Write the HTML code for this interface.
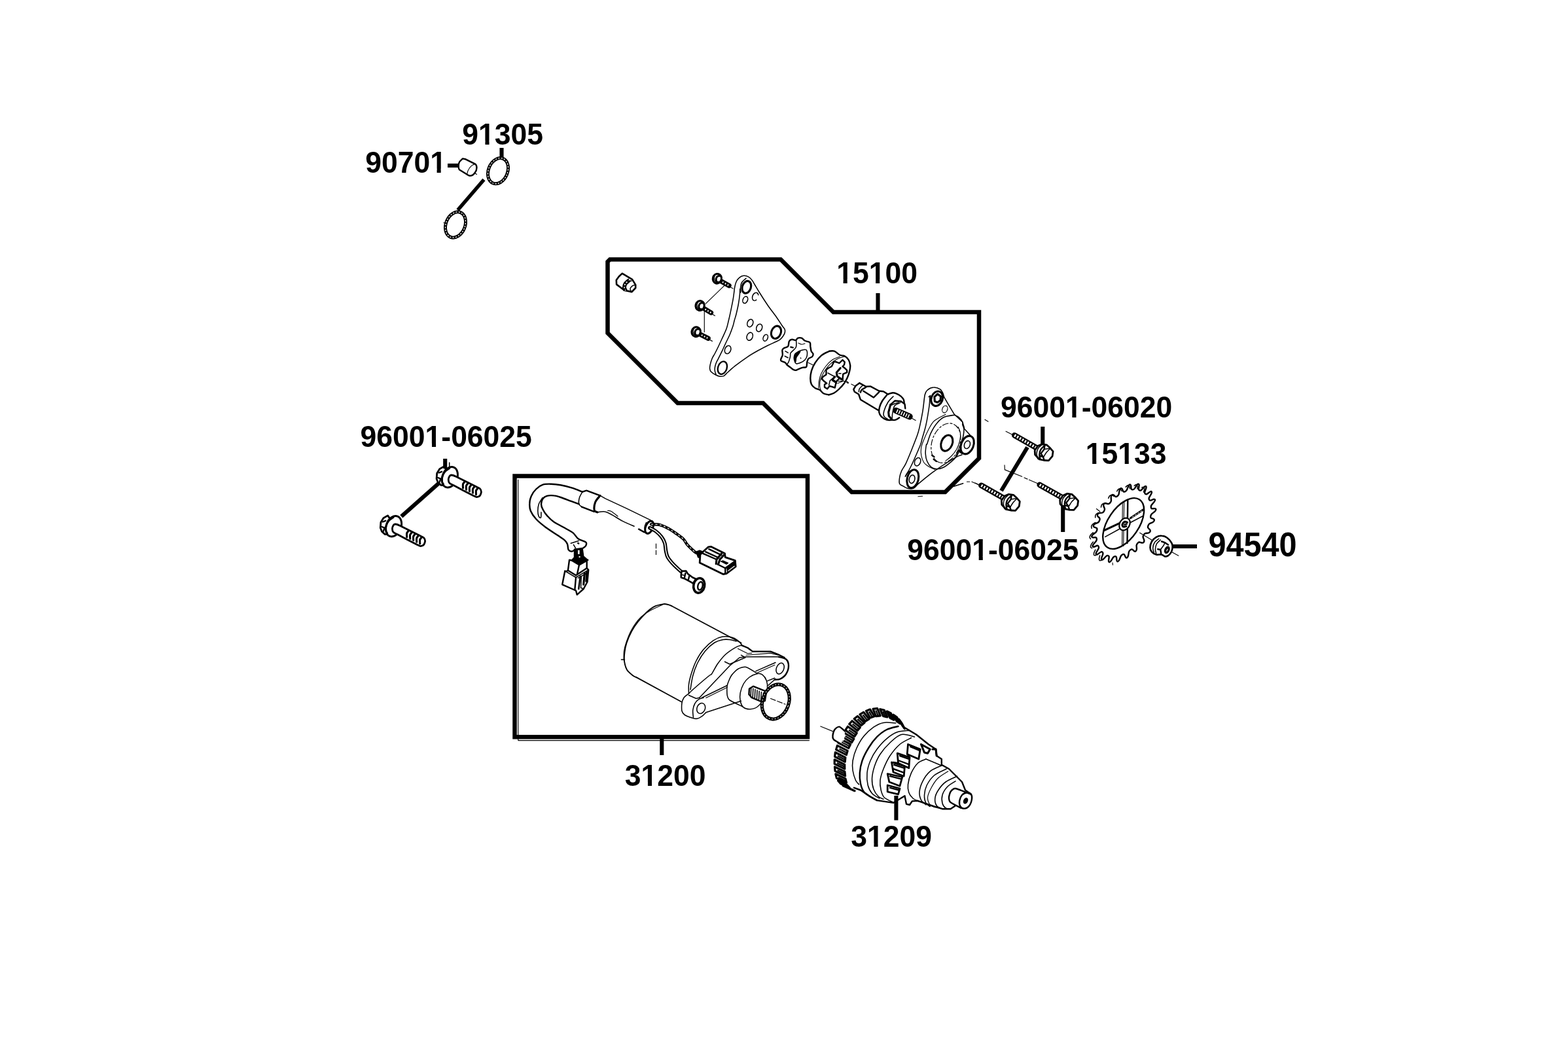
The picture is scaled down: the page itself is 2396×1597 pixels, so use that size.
<!DOCTYPE html>
<html lang="en"><head><meta charset="utf-8"><title>Parts diagram</title>
<style>
html,body{margin:0;padding:0;background:#fff;overflow:hidden}
svg{display:block}
.t{font-family:"Liberation Sans",sans-serif;font-weight:bold;font-size:44.5px;fill:#000}
.k{stroke:#000;stroke-width:6.5;fill:none;stroke-linejoin:miter}
.l{stroke:#000;stroke-width:6.1;fill:none;stroke-linecap:butt}
.n{stroke:#000;stroke-width:1.55;fill:none;stroke-linejoin:round;stroke-linecap:round}
.m{stroke:#000;stroke-width:2.4;fill:none;stroke-linejoin:round;stroke-linecap:round}
.b{stroke:#000;stroke-width:3.1;fill:none;stroke-linejoin:round;stroke-linecap:round}
.h{stroke:#000;stroke-width:1.15;fill:none;stroke-linecap:round;stroke-linejoin:round}
.wd{stroke:#fff;fill:none}
.f{fill:#000;stroke:#000;stroke-width:1.5;stroke-linejoin:round}
</style></head>
<body>
<svg width="2396" height="1597" viewBox="0 0 2396 1597">
<defs><filter id="soft" filterUnits="userSpaceOnUse" x="0" y="0" width="2396" height="1597" color-interpolation-filters="sRGB"><feGaussianBlur stdDeviation="0.45"/></filter></defs>
<rect width="2396" height="1597" fill="#fff"/>
<g filter="url(#soft)">
<rect width="2396" height="1597" fill="#fff"/>
<g id="part_00_frames">
<path class="k" d="M928.5 400 L932 396.5 L1193 396.5 L1273.5 477 L1496 477 L1496 700.5 L1444.3 752 L1301.5 752 L1166 616 L1035.5 616 L928.5 509 Z"/>
<rect class="k" x="786.5" y="727.5" width="447.5" height="398.8"/>
<path class="h" d="M791.8 733 V1131.6 H1236.5"/>
</g>
<g id="part_01_labels">
<g transform="translate(558.2 263.6) scale(1 1.06)"><text class="t">90701</text><rect x="99.89" y="-5.24" width="9.50" height="6.14" fill="#fff"/><rect x="115.49" y="-5.24" width="8.25" height="6.14" fill="#fff"/></g>
<g transform="translate(706.3 220.8) scale(1 1.06)"><text class="t">91305</text><rect x="25.64" y="-5.24" width="9.50" height="6.14" fill="#fff"/><rect x="41.24" y="-5.24" width="8.25" height="6.14" fill="#fff"/></g>
<g transform="translate(1278.2 432.7) scale(1 1.06)"><text class="t">15100</text><rect x="0.89" y="-5.24" width="9.50" height="6.14" fill="#fff"/><rect x="16.49" y="-5.24" width="8.25" height="6.14" fill="#fff"/><rect x="50.39" y="-5.24" width="9.50" height="6.14" fill="#fff"/><rect x="65.99" y="-5.24" width="8.25" height="6.14" fill="#fff"/></g>
<g transform="translate(1529 638.2) scale(1 1.06)"><text class="t">96001-06020</text><rect x="99.89" y="-5.24" width="9.50" height="6.14" fill="#fff"/><rect x="115.49" y="-5.24" width="8.25" height="6.14" fill="#fff"/></g>
<g transform="translate(1658.8 709) scale(1 1.06)"><text class="t">15133</text><rect x="0.89" y="-5.24" width="9.50" height="6.14" fill="#fff"/><rect x="16.49" y="-5.24" width="8.25" height="6.14" fill="#fff"/><rect x="50.39" y="-5.24" width="9.50" height="6.14" fill="#fff"/><rect x="65.99" y="-5.24" width="8.25" height="6.14" fill="#fff"/></g>
<g transform="translate(1386.3 855.8) scale(1 1.06)"><text class="t">96001-06025</text><rect x="99.89" y="-5.24" width="9.50" height="6.14" fill="#fff"/><rect x="115.49" y="-5.24" width="8.25" height="6.14" fill="#fff"/></g>
<g transform="translate(1846.5 850.1) scale(1 1.06)"><text class="t" style="font-size:48.6px">94540</text></g>
<g transform="translate(550.6 683.2) scale(1 1.06)"><text class="t">96001-06025</text><rect x="99.89" y="-5.24" width="9.50" height="6.14" fill="#fff"/><rect x="115.49" y="-5.24" width="8.25" height="6.14" fill="#fff"/></g>
<g transform="translate(954.8 1200.8) scale(1 1.06)"><text class="t">31200</text><rect x="25.64" y="-5.24" width="9.50" height="6.14" fill="#fff"/><rect x="41.24" y="-5.24" width="8.25" height="6.14" fill="#fff"/></g>
<g transform="translate(1300.3 1294.4) scale(1 1.06)"><text class="t">31209</text><rect x="25.64" y="-5.24" width="9.50" height="6.14" fill="#fff"/><rect x="41.24" y="-5.24" width="8.25" height="6.14" fill="#fff"/></g>
<path class="l" d="M684 253 H701.5"/>
<path class="l" d="M766.5 226 V243"/>
<path class="l" d="M739.5 274.5 L699.5 321" style="stroke-width:5.5"/>
<path class="l" d="M1341.5 448 V478"/>
<path class="l" d="M1011.3 1128 V1154"/>
</g>
<g id="part_02_topleft">
<g transform="translate(761 261.2) rotate(22)"><ellipse class="n" rx="14.6" ry="20.3" style="stroke-width:5"/><ellipse class="wd" rx="14.6" ry="20.3" stroke-width="1.3" stroke-dasharray="2.2 2.2"/></g>
<g transform="translate(696 343.5) rotate(22)"><ellipse class="n" rx="14.6" ry="20.3" style="stroke-width:5"/><ellipse class="wd" rx="14.6" ry="20.3" stroke-width="1.3" stroke-dasharray="2.2 2.2"/></g>
<path class="h" d="M678 340.5 L682 341"/>
<path class="m" d="M707 242.4 L711 243.2 L726 250.6 C729.5 253 729 259.5 726 263.5 C723 268 719 269.2 716.3 268.2 L701.8 259.2 C700 256 700.3 250.5 702.3 247 Z"/>
<path class="h" d="M725 251 C719.5 252.5 714.5 259 713.5 266.5"/>
<path class="h" d="M725.5 264.5 L728.5 266.5"/>
</g>
<g id="part_03_plate">
<path d="M950.8 417.9 L966.2 427.1 L971.2 435.4 L971.2 440 L965.4 446.2 L962.5 445.4 L954.2 443.8 L942.1 434.6 L941.8 427.9 L945.8 422.5Z" fill="#fff" stroke="#000" stroke-width="2.6" stroke-linejoin="round"/>
<path d="M962.1 427.7 C961 428.6 957.2 431.4 955.8 433.3 C954.5 435.2 954 437.4 954 439.2 C954 440.9 955.5 443.2 955.8 444" stroke="#000" stroke-width="6" fill="none" stroke-linecap="butt"/>
<path d="M962.1 427.7 C961 428.6 957.2 431.4 955.8 433.3 C954.5 435.2 954 437.4 954 439.2 C954 440.9 955.5 443.2 955.8 444" class="wd" stroke-width="1.6" stroke-dasharray="2.2 2.4"/>
<path class="n" d="M971 435.7 C970.2 435.9 967.7 435.8 966.3 436.8 C965 437.8 963.1 440.1 962.9 441.7 C962.7 443.2 964.8 445.3 965.2 446"/>
<path class="n" d="M960 429.2 L965 429.2"/>
<g transform="translate(1095.9 425.8)"><g transform="rotate(29)"><path d="M3 0.6 H21" stroke="#000" stroke-width="7.4" stroke-linecap="round" fill="none"/><path d="M9.5 0.6 H22" class="wd" stroke-width="2.2" stroke-dasharray="1.8 2.6"/><path d="M24 1.5 H28.5" class="h"/></g><ellipse rx="6.6" ry="7.4" transform="rotate(15)" fill="#fff" stroke="#000" stroke-width="3.1"/><path d="M4.6 -4.2 C0 -5.2 -2.6 -1 -1.6 3.2 C-1 5.2 0.6 6 2 5.6" class="b"/><path d="M-3.6 -4.4 C-5 -1.5 -4.6 2 -3 4.2" class="h"/></g>
<g transform="translate(1069.6 467.1)"><g transform="rotate(31)"><path d="M3 0.6 H20" stroke="#000" stroke-width="7.4" stroke-linecap="round" fill="none"/><path d="M9.5 0.6 H21" class="wd" stroke-width="2.2" stroke-dasharray="1.8 2.6"/><path d="M23 1.5 H27.5" class="h"/></g><ellipse rx="6.6" ry="7.4" transform="rotate(15)" fill="#fff" stroke="#000" stroke-width="3.1"/><path d="M4.6 -4.2 C0 -5.2 -2.6 -1 -1.6 3.2 C-1 5.2 0.6 6 2 5.6" class="b"/><path d="M-3.6 -4.4 C-5 -1.5 -4.6 2 -3 4.2" class="h"/></g>
<g transform="translate(1063.7 507.1)"><g transform="rotate(27)"><path d="M3 0.6 H21" stroke="#000" stroke-width="7.4" stroke-linecap="round" fill="none"/><path d="M9.5 0.6 H22" class="wd" stroke-width="2.2" stroke-dasharray="1.8 2.6"/><path d="M24 1.5 H28.5" class="h"/></g><ellipse rx="6.6" ry="7.4" transform="rotate(15)" fill="#fff" stroke="#000" stroke-width="3.1"/><path d="M4.6 -4.2 C0 -5.2 -2.6 -1 -1.6 3.2 C-1 5.2 0.6 6 2 5.6" class="b"/><path d="M-3.6 -4.4 C-5 -1.5 -4.6 2 -3 4.2" class="h"/></g>
<path class="h" d="M1106.7 436.7 L1078.3 464.2"/>
<path class="h" d="M1076.3 475 L1076.3 507.5"/>
<path class="n" d="M1122.5 440 C1123 437.4 1123.8 433.4 1125 430.8 C1126.2 428.2 1128 425.8 1130 424.2 C1132 422.6 1134.3 421.4 1136.7 421.3 C1139.1 421.2 1142.1 422.1 1144.2 423.3 C1146.3 424.5 1147.7 426.4 1149.2 428.3 C1150.7 430.2 1151.4 431.8 1153.3 435 C1155.2 438.2 1157.5 442.2 1160.8 447.5 C1164.1 452.8 1169 460.4 1173.3 466.7 C1177.6 472.9 1183.1 479.9 1186.7 485 C1190.3 490.1 1192.9 494.4 1195 497.5 C1197.1 500.6 1198.5 501.7 1199.2 503.5 C1199.9 505.3 1199.6 506.8 1199.2 508.5 C1198.8 510.2 1198 511.7 1196.7 513.5 C1195.5 515.3 1193.7 517.7 1191.7 519.2 C1189.8 520.7 1187.9 521.1 1185 522.5 C1182.1 523.9 1178.7 525.3 1174.2 527.5 C1169.8 529.7 1163.7 532.8 1158.3 535.8 C1152.9 538.8 1147.5 541.9 1141.7 545.8 C1135.9 549.7 1128.6 555 1123.3 559.2 C1118 563.4 1112.9 568.2 1110 570.8 C1107.1 573.4 1107.5 573.9 1105.8 574.6 C1104.1 575.3 1102.1 575.5 1100 575.2 C1097.9 574.9 1095.5 573.9 1093.3 572.7 C1091.1 571.6 1088.2 569.9 1086.7 568.3 C1085.2 566.7 1084.8 565.2 1084.6 563.3 C1084.4 561.4 1084.8 559.3 1085.4 556.7 C1086 554.1 1087.1 550.3 1088.3 547.5 C1089.5 544.7 1091 542.9 1092.5 540 C1094 537.1 1095.7 533.8 1097.5 530 C1099.3 526.2 1101.2 522.1 1103.3 517.5 C1105.4 512.9 1108.3 507.1 1110 502.5 C1111.7 497.9 1112.3 493.9 1113.3 490 C1114.3 486.1 1114.7 484.5 1115.8 479.2 C1116.9 473.9 1119 463.7 1120 458.3 C1121 452.9 1121.3 449.8 1121.7 446.7 C1122.1 443.6 1122 442.6 1122.5 440Z"/>
<path class="n" d="M1130.8 441.7 C1130.7 443.1 1130.8 446.1 1130.4 450 C1130 453.9 1129.2 460 1128.3 465 C1127.4 470 1126 475.8 1125 480 C1124 484.2 1122.9 486.9 1122.1 490 C1121.3 493.1 1121.2 494.7 1120 498.3 C1118.8 501.9 1117 507.1 1115 511.7 C1113 516.3 1110.2 521.6 1108.3 525.8 C1106.3 530 1105.1 533 1103.3 536.7 C1101.5 540.5 1099 545.2 1097.5 548.3 C1096 551.3 1095 552.9 1094.2 555 C1093.4 557.1 1092.8 558.7 1092.5 560.8 C1092.2 562.9 1092.2 565.6 1092.5 567.5 C1092.8 569.4 1093.8 571.2 1094 572"/>
<ellipse class="b" cx="1140.8" cy="438.8" rx="6.6" ry="9.6" transform="rotate(18 1140.8 438.8)"/>
<path class="n" d="M1140 425.4 C1138.9 426.5 1134.7 429.6 1133.3 432 C1131.9 434.4 1131.8 437.5 1131.5 440 C1131.2 442.5 1131.8 445.8 1131.8 447"/>
<ellipse class="b" cx="1186" cy="507.8" rx="7.2" ry="9.9" transform="rotate(20 1186 507.8)"/>
<ellipse class="m" cx="1103.9" cy="562.1" rx="6.8" ry="10" transform="rotate(18 1103.9 562.1)"/>
<ellipse class="n" cx="1138.8" cy="458.3" rx="3.6" ry="5.4" transform="rotate(22 1138.8 458.3)"/>
<ellipse class="n" cx="1146.3" cy="493.8" rx="4.3" ry="6" transform="rotate(22 1146.3 493.8)"/>
<ellipse class="n" cx="1160.2" cy="501" rx="4.3" ry="6" transform="rotate(22 1160.2 501)"/>
<ellipse class="n" cx="1145.7" cy="514.2" rx="4.4" ry="6.3" transform="rotate(22 1145.7 514.2)"/>
<ellipse class="n" cx="1169.7" cy="516.2" rx="3.4" ry="5.2" transform="rotate(22 1169.7 516.2)"/>
<ellipse class="n" cx="1112.1" cy="534.4" rx="4.5" ry="6.4" transform="rotate(22 1112.1 534.4)"/>
<path class="n" d="M1155.7 458.3 C1155.5 458.4 1154.8 458.9 1154.4 459.1 C1153.9 459.3 1153.4 459.4 1153 459.4 C1152.5 459.4 1152.1 459.3 1151.7 459.1 C1151.3 458.9 1150.9 458.6 1150.6 458.2 C1150.3 457.9 1150.1 457.4 1149.9 457 C1149.7 456.5 1149.6 455.9 1149.6 455.3 C1149.5 454.8 1149.6 454.1 1149.7 453.5 C1149.8 452.9 1150 452.3 1150.2 451.7 C1150.4 451.1 1150.8 450.5 1151.1 450 C1151.5 449.5 1151.9 449 1152.3 448.6 C1152.7 448.2 1153.2 447.9 1153.6 447.7 C1154.1 447.5 1154.6 447.3 1155.1 447.3 C1155.5 447.2 1156 447.3 1156.4 447.4 C1156.8 447.5 1157.2 447.8 1157.5 448.1 C1157.8 448.4 1158.1 448.8 1158.3 449.2 C1158.5 449.7 1158.7 450.5 1158.8 450.8"/>
</g>
<g id="part_04_rotor">
<path class="m" d="M1219.2 516.7 C1220.7 516.1 1223.2 516 1225 516.7 C1226.8 517.4 1227.9 519.7 1230 520.8 C1232.1 521.9 1236.1 521.9 1237.5 523.3 C1238.9 524.7 1238 526.9 1238.3 529.2 C1238.7 531.4 1238.9 534.7 1239.6 536.7 C1240.3 538.6 1242.2 539.4 1242.5 540.8 C1242.8 542.2 1242.4 543.8 1241.2 545 C1240.1 546.2 1236.7 546.9 1235.4 548.3 C1234.1 549.7 1233.9 551.2 1233.3 553.3 C1232.8 555.4 1233.2 559.4 1232.1 560.8 C1231 562.2 1228.7 561.1 1226.7 561.7 C1224.7 562.2 1221.7 563.5 1220 564.2 C1218.3 564.9 1217.9 565.7 1216.7 565.8 C1215.4 566 1214 565.8 1212.5 565 C1211 564.2 1209.2 562.5 1207.5 561.2 C1205.8 560 1203.8 558.7 1202.5 557.5 C1201.2 556.3 1201.5 555.2 1200 554.2 C1198.5 553.1 1194.4 552.4 1193.3 551.2 C1192.3 550.1 1193.3 549 1193.8 547.5 C1194.2 546 1195.6 544.6 1195.8 542.5 C1196.1 540.4 1195.1 536.7 1195.4 535 C1195.8 533.3 1196.5 533.1 1197.9 532.1 C1199.4 531.1 1202.8 530.9 1204.2 529.2 C1205.5 527.4 1204.9 523.4 1205.8 521.7 C1206.8 519.9 1208.3 519 1210 518.8 C1211.7 518.5 1214.3 520.3 1215.8 520 C1217.4 519.7 1217.6 517.2 1219.2 516.7Z"/>
<path class="n" d="M1216.7 520.8 C1216.6 522.5 1217.6 527.8 1216.2 530.8 C1214.9 533.9 1209.8 536.8 1208.3 539.2 C1206.9 541.5 1208.1 542.6 1207.5 545 C1206.9 547.4 1205.9 551.3 1205 553.3 C1204.1 555.3 1202.6 556.5 1202.1 557.1"/>
<path class="n" d="M1213.3 546.7 C1213.5 544.9 1213.3 542.6 1215 540.8 C1216.7 539 1220.8 536.9 1223.3 535.8 C1225.8 534.7 1228.4 534.2 1230 534.2 C1231.6 534.2 1232.4 534.3 1232.9 535.8 C1233.5 537.4 1233.8 541 1233.3 543.3 C1232.8 545.7 1231.7 548.2 1230 550 C1228.3 551.8 1225.6 553.2 1223.3 554.2 C1221.1 555.1 1218.2 556.2 1216.7 555.8 C1215.1 555.4 1214.7 553.2 1214.2 551.7 C1213.6 550.1 1213.2 548.5 1213.3 546.7Z"/>
<path class="f" d="M1213.8 547.1 C1213.7 545.1 1214 542.9 1215.4 541.2 C1216.9 539.6 1221.7 537 1222.5 537.1 C1223.3 537.2 1221 540.1 1220 541.7 C1219 543.3 1217.4 544.7 1216.7 546.7 C1216 548.6 1216.3 553.3 1215.8 553.3 C1215.3 553.4 1213.8 549.1 1213.8 547.1Z"/>
<path class="h" d="M1220 524.2 C1220.8 524.5 1223.3 526.1 1225 526.2 C1226.7 526.4 1229.2 525.2 1230 525"/>
<path class="m" d="M1208.3 530.4 L1211.7 531.2"/>
<path class="n" d="M1200 536.7 L1204.2 539.2"/>
<path class="n" d="M1199.2 544.2 L1204.2 546.7"/>
<path class="n" d="M1223.3 547.1 L1223.8 547.5"/>
<path class="h" d="M1235 554.2 L1243.3 558.3"/>
<path class="m" d="M1267.1 536.7 C1265.1 537.8 1258.5 540.4 1255 543.3 C1251.5 546.2 1248.3 550.3 1245.8 554.2 C1243.3 558.1 1241.2 562.6 1240 566.7 C1238.8 570.7 1238.3 574.9 1238.3 578.3 C1238.3 581.8 1238.8 585 1240 587.5 C1241.2 590 1243.8 591.9 1245.8 593.3 C1247.9 594.7 1250.4 594.5 1252.5 595.8 C1254.6 597.2 1256 600 1258.3 601.2 C1260.7 602.5 1265.3 603 1266.7 603.3"/>
<path class="m" d="M1267.1 536.7 C1268.4 536.7 1272.3 535.7 1275 536.7 C1277.7 537.6 1280.7 541.2 1283.3 542.5 C1286 543.8 1288.6 542.9 1290.8 544.2 C1293.1 545.4 1295.3 547.6 1296.7 550 C1298.1 552.4 1298.9 555.6 1299.2 558.3 C1299.4 561.1 1299 563.6 1298.3 566.7 C1297.6 569.7 1296.4 573.5 1295 576.7 C1293.6 579.9 1292.2 582.8 1290 585.8 C1287.8 588.9 1284.3 592.5 1281.7 595 C1279 597.5 1276.7 599.4 1274.2 600.8 C1271.7 602.2 1267.9 602.9 1266.7 603.3"/>
<path class="h" d="M1283.3 545 C1281.4 545.8 1275.3 547.5 1271.7 550 C1268.1 552.5 1264.4 556.5 1261.7 560 C1258.9 563.5 1256.7 567.2 1255 570.8 C1253.3 574.4 1252.4 577.9 1251.7 581.7 C1251 585.4 1251 591.4 1250.8 593.3"/>
<path class="h" d="M1290.8 544.6 C1288.8 545.3 1282.4 546.9 1278.3 549.2 C1274.3 551.5 1270 554.9 1266.7 558.3 C1263.3 561.8 1260.6 566.1 1258.3 570 C1256.1 573.9 1254.2 578.1 1253.3 581.7 C1252.4 585.3 1252.6 588.9 1252.9 591.7 C1253.2 594.4 1254.7 597.2 1255 598.3"/>
<path class="m" d="M1274.2 552.5 L1278.3 553.3 L1282.5 555 L1287.5 550 L1290.8 553.3 L1290 557.5 L1287.5 560 L1291.7 563.3 L1294.2 565.8 L1294.2 569.2 L1288.3 571.7 L1287.5 580 L1282.5 578.3 L1278.3 582.5 L1276.7 588.3 L1275.8 592.5 L1270.8 590.8 L1267.5 590 L1264.2 594.2 L1260 591.7 L1260 587.5 L1263.3 585.8 L1260 583.3 L1255.8 579.2 L1257.5 575.8 L1262.5 572.5 L1262.5 565 L1265.8 562.5 L1270.8 560 L1273.3 555Z"/>
<path class="b" d="M1284.2 562.5 L1278.3 569.2 L1279.2 575 L1286.7 580"/>
<path class="n" d="M1265 570 L1275.8 575.8 L1268.3 581.7 L1266.7 588.3"/>
<path class="b" d="M1275.8 575.8 L1271.7 580 L1277.5 584.2"/>
<path class="n" d="M1271.7 581.7 L1278.3 585.8"/>
<path class="n" d="M1281.7 570.8 L1285 570.8"/>
<path class="h" d="M1288.3 571.7 L1288.3 582.5 L1280 585.8"/>
<path class="h" d="M1278.3 582.5 L1290.8 582.5"/>
<path class="m" d="M1294.2 583.8 L1295.8 585"/>
<path class="h" d="M1300.8 587.1 L1306.7 590"/>
<path class="m" d="M1313.3 585.4 L1307.9 589.2 L1304.3 595 L1305.8 598.8 L1312.1 602.5 L1315 610.8 L1341.7 626.7"/>
<path class="m" d="M1313.3 585.4 L1323.3 590.8 L1330 590.4 L1343.3 597.5 L1350 598.3 L1356.7 602.5"/>
<path class="n" d="M1317.9 589.2 C1317.2 590 1314.3 592.6 1313.3 594.2 C1312.4 595.8 1312.5 598 1312.3 598.8"/>
<path class="m" d="M1323.3 591.7 C1322.2 592.4 1318.1 594.5 1316.7 595.8 C1315.3 597.2 1315.3 599 1315 599.6"/>
<path class="m" d="M1319.2 597.5 L1335 607.5 L1343.3 599.2"/>
<path class="m" d="M1356.7 602.5 C1358.1 602.1 1362.2 600 1365 600.2 C1367.8 600.3 1370.8 601.8 1373.3 603.3 C1375.8 604.8 1378.6 607.2 1380 609.2 C1381.4 611.1 1381.4 614 1381.7 615"/>
<path class="m" d="M1355.8 602.9 C1354.6 604.5 1350.3 609.4 1348.3 612.5 C1346.4 615.6 1345 618.8 1344.2 621.7 C1343.3 624.6 1342.9 627.5 1343.3 630 C1343.8 632.5 1344.7 634.7 1346.7 636.7 C1348.6 638.6 1352.4 640.8 1355 641.7 C1357.6 642.5 1360.3 641.8 1362.5 641.8 C1364.7 641.8 1366.4 642.2 1368.3 641.7 C1370.3 641.1 1373.2 638.9 1374.2 638.3"/>
<path class="n" d="M1365 605.8 C1363.6 607.4 1359 611.2 1356.7 615 C1354.3 618.8 1351.8 624.9 1350.8 628.3 C1349.8 631.8 1349.7 633.8 1350.7 635.8 C1351.6 637.9 1355.7 640 1356.7 640.8"/>
<path class="m" d="M1360.8 618.3 L1367.5 612.5 L1376.7 613.3 L1382.5 617.5 L1383.3 624.2"/>
<path class="b" d="M1360.8 618.3 L1357.7 630 L1358.3 635.8 L1362.5 640.8"/>
<path class="n" d="M1375.8 615.4 C1374.4 616.2 1369.1 617.3 1367.1 620 C1365.1 622.7 1364.4 628.5 1363.8 631.7 C1363.1 634.9 1363.4 637.9 1363.3 639.2"/>
<path class="n" d="M1361.7 619.2 L1367.5 616.7 L1373.3 615"/>
<path d="M1369.2 627.5 L1390 636.7" stroke="#000" stroke-width="9.5" stroke-linecap="round" fill="none"/>
<path d="M1370.2 628 L1391 637.2" class="wd" stroke-width="6" stroke-dasharray="1.6 2.2"/>
<path class="h" d="M1392.1 638.5 L1399.2 642.5"/>
</g>
<g id="part_05_body">
<path class="n" d="M1442.5 606.7 C1442.2 605.7 1441.8 602.8 1440.8 600.8 C1439.9 598.9 1439 596.5 1436.7 595 C1434.3 593.5 1429.9 591.9 1426.7 592.1 C1423.5 592.2 1419.7 594 1417.5 595.8 C1415.3 597.7 1414.6 597.9 1413.3 603.3 C1412.1 608.8 1411.4 620 1410 628.3 C1408.6 636.7 1406.4 647.2 1405 653.3 C1403.6 659.4 1403.6 659.4 1401.7 665 C1399.7 670.6 1396.2 679.4 1393.3 686.7 C1390.4 693.9 1386.8 702.8 1384.2 708.3 C1381.5 713.9 1379.1 716.4 1377.5 720 C1375.9 723.6 1375.1 726.8 1374.6 730 C1374.1 733.2 1373.7 737 1374.6 739.2 C1375.5 741.3 1378 741.7 1380 742.9 C1382 744.1 1384 745.7 1386.7 746.2 C1389.3 746.8 1393.2 747.3 1395.8 746.2 C1398.5 745.2 1401.4 741 1402.5 740"/>
<path class="n" d="M1420.8 605.8 C1420.7 608.2 1421 612.8 1420 620 C1419 627.2 1416.8 640.8 1415 649.2 C1413.2 657.5 1410.6 665 1409.2 670 C1407.8 675 1408.6 674 1406.7 679.2 C1404.7 684.3 1400.1 694.9 1397.5 700.8 C1394.9 706.8 1393.1 710.6 1390.8 715 C1388.5 719.4 1384.9 725.4 1383.8 727.5"/>
<path class="h" d="M1418.8 606.7 L1421.7 604.2 L1422.5 616.7"/>
<path class="n" d="M1442.5 606.7 L1448.3 616.7 L1458.3 633.3 L1470.8 645 L1473.3 653.3 L1473.3 655 L1482.5 665"/>
<path class="n" d="M1402.5 740 C1404.9 738.1 1412.1 731.9 1416.7 728.3 C1421.2 724.7 1422.8 723.2 1430 718.3 C1437.2 713.5 1453.3 703.1 1460 699.2 C1466.7 695.3 1468.3 695.7 1470 695"/>
<path class="n" d="M1460 699.2 L1464.2 688.3"/>
<ellipse class="b" cx="1431.7" cy="609.2" rx="8.6" ry="11.5" transform="rotate(20 1431.7 609.2)"/>
<path class="b" d="M1432.5 602.1 L1437.5 605.8 L1437.1 611.7 L1432.5 615 L1428.3 613.3 L1427.9 606.7Z"/>
<ellipse class="h" cx="1443.8" cy="625.4" rx="3.9" ry="5.6" transform="rotate(20 1443.8 625.4)"/>
<ellipse class="n" cx="1402.1" cy="705.7" rx="4.4" ry="6.5" transform="rotate(22 1402.1 705.7)"/>
<ellipse class="b" cx="1394.8" cy="731.7" rx="8.6" ry="14.2" transform="rotate(14 1394.8 731.7)"/>
<ellipse class="n" cx="1393.6" cy="732.3" rx="4.2" ry="6.4" transform="rotate(14 1393.6 732.3)"/>
<path class="n" d="M1383.3 728.3 C1383.9 727.4 1385.3 724 1386.7 722.5 C1388.1 721 1390.8 719.7 1391.7 719.2"/>
<ellipse class="b" cx="1478.1" cy="680" rx="9.4" ry="14.4" transform="rotate(22 1478.1 680)"/>
<ellipse class="n" cx="1477.9" cy="679.6" rx="4.3" ry="6.2" transform="rotate(22 1477.9 679.6)"/>
<path class="f" d="M1464.2 689.2 L1467.9 686.7 L1470 693.3Z"/>
<path class="n" d="M1458.3 634.2 C1455.7 634.7 1446.9 635.4 1442.5 637.5 C1438.1 639.6 1435 642.6 1431.7 646.7 C1428.3 650.7 1425 656.4 1422.5 661.7 C1420 666.9 1417.8 675.3 1416.7 678.3 C1415.5 681.4 1415.8 677.5 1415.4 680 C1415 682.5 1414 689.2 1414.2 693.3 C1414.4 697.5 1415.1 701.5 1416.7 705 C1418.2 708.5 1420.8 712.2 1423.3 714.2 C1425.8 716.1 1428.6 716.7 1431.7 716.7 C1434.7 716.7 1438.1 716 1441.7 714.2 C1445.3 712.4 1450 708.6 1453.3 705.8 C1456.7 703.1 1459.4 700.7 1461.7 697.5 C1463.9 694.3 1465.8 688.5 1466.7 686.7"/>
<path class="h" d="M1445 633.3 C1442.1 635 1431.9 639.3 1427.5 643.3 C1423.1 647.4 1421.1 652.4 1418.3 657.5 C1415.6 662.6 1412.6 669.6 1410.8 674.2 C1409 678.8 1408 681.2 1407.5 685 C1407 688.8 1407.2 693.1 1407.9 696.7 C1408.6 700.3 1409.9 704 1411.7 706.7 C1413.4 709.3 1415.6 710.7 1418.3 712.5 C1421.1 714.3 1426.7 716.7 1428.3 717.5"/>
<path class="n" d="M1458.3 634.2 C1459.4 634.7 1462.9 635.7 1465 637.5 C1467.1 639.3 1469.9 643.1 1470.8 645 C1471.8 646.9 1470.5 647.4 1470.8 649.2 C1471.2 651 1472.8 652.8 1472.9 655.8 C1473.1 658.9 1472.4 663.9 1471.7 667.5 C1470.9 671.1 1468.9 675.8 1468.3 677.5"/>
<ellipse class="h" cx="1445.4" cy="677.1" rx="21.2" ry="31.2" transform="rotate(20 1445.4 677.1)" style="stroke-dasharray:9 3 3 3"/>
<path class="h" d="M1464.2 652.5 C1464.7 654 1467.1 658.2 1467.5 661.7 C1467.9 665.1 1467.6 669.2 1466.7 673.3 C1465.7 677.5 1463.9 682.6 1461.7 686.7 C1459.4 690.7 1456.1 694.6 1453.3 697.5 C1450.6 700.4 1446.4 703.1 1445 704.2"/>
<ellipse class="b" cx="1446.8" cy="677.1" rx="8.4" ry="12.6" transform="rotate(22 1446.8 677.1)"/>
<path class="m" d="M1424.2 695.8 L1427.5 698.3"/>
<path class="m" d="M1426.7 701.7 L1430.8 705"/>
<path class="h" d="M1505 641.2 L1510 644.2"/>
<path class="h" d="M1402.9 758.8 L1409.6 758.3"/>
<path class="n" d="M1457.5 743.3 L1471.7 738.8"/>
<path class="h" d="M1477.5 736.2 L1481.7 736.2"/>
<path class="h" d="M1485 736.2 L1497.5 741.7"/>
</g>
<g id="part_06_bolts">
<path d="M1550.2 665.2 L1585.8 685.4" stroke="#000" stroke-width="8.6" stroke-linecap="round" fill="none"/>
<path d="M1550.2 665.2 L1585.8 685.4" class="wd" stroke-width="4.2" stroke-dasharray="2.3 2.2" stroke-linecap="butt"/>
<path d="M1592.3 678.8 L1599.3 679.8 L1604.8 684.8 L1609.1 689.8 L1608.1 697.1 L1602.4 703.8 L1595.6 703.5 L1588.1 702 L1581.6 694.8 L1581.2 688.3 L1585.8 681.6Z" fill="#fff" stroke="#000" stroke-width="2.8" stroke-linejoin="round"/>
<path class="n" d="M1591.8 680 C1590.9 680.8 1587.7 683 1586.4 685.2 C1585.1 687.4 1584.2 690.5 1584.1 693.1 C1584 695.8 1585.5 699.7 1585.8 701"/>
<path class="m" d="M1596.4 680.8 C1595.4 681.9 1591.5 685 1590.2 687.3 C1588.8 689.6 1588.4 692.4 1588.3 694.8 C1588.2 697.2 1589.3 700.7 1589.5 701.9"/>
<path class="n" d="M1595.6 686.5 L1604.8 685.2"/>
<path class="m" d="M1596.4 680.8 L1595.6 686.5 L1590.6 693.1 L1593.9 698.1 L1595.6 703.4"/>
<path class="m" d="M1588.9 696.5 L1593.9 698.1"/>
<path class="n" d="M1604.8 685.5 C1603.8 686.5 1600.6 689.4 1598.9 691.5 C1597.3 693.6 1595.5 697 1594.8 698.1"/>
<path d="M1499.4 741.8 L1535 761.9" stroke="#000" stroke-width="8.6" stroke-linecap="round" fill="none"/>
<path d="M1499.4 741.8 L1535 761.9" class="wd" stroke-width="4.2" stroke-dasharray="2.3 2.2" stroke-linecap="butt"/>
<path d="M1541.5 755.3 L1548.5 756.3 L1554 761.3 L1558.3 766.3 L1557.3 773.6 L1551.6 780.3 L1544.8 780 L1537.3 778.5 L1530.8 771.3 L1530.4 764.8 L1535 758.1Z" fill="#fff" stroke="#000" stroke-width="2.8" stroke-linejoin="round"/>
<path class="n" d="M1541 756.5 C1540.1 757.3 1536.9 759.5 1535.6 761.7 C1534.3 763.9 1533.4 767 1533.3 769.6 C1533.2 772.3 1534.7 776.2 1535 777.5"/>
<path class="m" d="M1545.6 757.3 C1544.6 758.4 1540.7 761.5 1539.4 763.8 C1538 766.1 1537.6 768.9 1537.5 771.3 C1537.4 773.7 1538.5 777.2 1538.7 778.4"/>
<path class="n" d="M1544.8 763 L1554 761.7"/>
<path class="m" d="M1545.6 757.3 L1544.8 763 L1539.8 769.6 L1543.1 774.6 L1544.8 779.9"/>
<path class="m" d="M1538.1 773 L1543.1 774.6"/>
<path class="n" d="M1554 762 C1553 763 1549.8 765.9 1548.1 768 C1546.5 770.1 1544.7 773.5 1544 774.6"/>
<path d="M1588.7 740.9 L1624.3 761" stroke="#000" stroke-width="8.6" stroke-linecap="round" fill="none"/>
<path d="M1588.7 740.9 L1624.3 761" class="wd" stroke-width="4.2" stroke-dasharray="2.3 2.2" stroke-linecap="butt"/>
<path d="M1630.8 754.4 L1637.8 755.4 L1643.3 760.4 L1647.6 765.4 L1646.6 772.7 L1640.9 779.4 L1634.1 779.1 L1626.6 777.6 L1620.1 770.4 L1619.7 763.9 L1624.3 757.2Z" fill="#fff" stroke="#000" stroke-width="2.8" stroke-linejoin="round"/>
<path class="n" d="M1630.3 755.6 C1629.4 756.4 1626.2 758.6 1624.9 760.8 C1623.6 763 1622.7 766.1 1622.6 768.7 C1622.5 771.4 1624 775.3 1624.3 776.6"/>
<path class="m" d="M1634.9 756.4 C1633.9 757.5 1630 760.6 1628.7 762.9 C1627.3 765.2 1626.9 768 1626.8 770.4 C1626.7 772.8 1627.8 776.3 1628 777.5"/>
<path class="n" d="M1634.1 762.1 L1643.3 760.8"/>
<path class="m" d="M1634.9 756.4 L1634.1 762.1 L1629.1 768.7 L1632.4 773.7 L1634.1 779"/>
<path class="m" d="M1627.4 772.1 L1632.4 773.7"/>
<path class="n" d="M1643.3 761.1 C1642.3 762.1 1639.1 765 1637.4 767.1 C1635.8 769.2 1634 772.6 1633.3 773.7"/>
<path class="h" d="M1537.1 659.2 L1547.5 664.6"/>
<path class="h" d="M1535 710.8 L1535.4 717.9 L1561.7 728.3"/>
<path class="h" d="M1565 730 L1570 732.1"/>
<path class="h" d="M1572.5 733.3 L1588.3 740"/>
<path class="h" d="M1490 737.9 L1498.3 742.1"/>
<path class="l" d="M1570 683.5 L1530 750"/>
<path class="l" d="M1593.3 652 V678"/>
<path class="l" d="M1624.2 772 V813"/>
<path d="M678.3 712.9 L671.7 716.8 L667.7 723.3 L667.1 731.7 L669.2 737.1 L674.2 741.7 L680.8 741.7 L683.3 720Z" fill="#fff" stroke="#000" stroke-width="2.8" stroke-linejoin="round"/>
<path class="m" d="M670.8 722.5 L675 720.8"/>
<path class="m" d="M669.2 730 L673.3 731.7 L671.7 736.7"/>
<ellipse cx="687.3" cy="729.3" rx="11.3" ry="16.3" transform="rotate(22 687.3 729.3)" fill="#fff" stroke="#000" stroke-width="3"/>
<path class="n" d="M687.5 715.8 C686.4 716.7 682.6 718.8 680.8 720.8 C679 722.9 677.4 725.8 676.7 728.3 C675.9 730.8 676 733.9 676.2 735.8 C676.5 737.8 678 739.3 678.3 740"/>
<path d="M690 726 C691.1 726 692.4 726.3 696.7 728.3 C700.9 730.4 722.4 741.2 726.7 743.3 C730.9 745.5 732.3 745.9 733.3 746.8 C734.4 747.8 735.4 750.4 735.4 751.7 C735.4 752.9 734.2 756.6 733.3 757.5 C732.5 758.4 729.5 759.6 728.3 759.6 C727.2 759.6 727.4 759.6 723.3 757.5 C719.2 755.4 697.6 744.1 693.3 741.8 C689.1 739.6 688 739.5 687.1 738.5 C686.1 737.5 685.2 734.2 685.2 732.9 C685.1 731.7 686.3 728.7 686.8 727.9 C687.4 727.1 688.9 726 690 726Z" fill="#fff" stroke="#000" stroke-width="2.8" stroke-linejoin="round"/>
<path class="b" d="M710.4 735.7 C709.9 736.4 708 738.2 707.5 739.8 C707 741.5 707.5 744.7 707.5 745.7"/>
<path class="b" d="M715.4 738.2 C714.9 738.9 713 740.7 712.5 742.3 C712 744 712.5 747.2 712.5 748.2"/>
<path class="b" d="M720.4 740.7 C719.9 741.4 718 743.2 717.5 744.8 C717 746.5 717.5 749.7 717.5 750.7"/>
<path class="b" d="M725.4 743.2 C724.9 743.9 723 745.7 722.5 747.3 C722 749 722.5 752.2 722.5 753.2"/>
<path class="b" d="M730.4 745.7 C729.9 746.4 728 748.2 727.5 749.8 C727 751.5 727.5 754.7 727.5 755.7"/>
<path d="M592.5 787.9 L585.9 791.8 L581.9 798.3 L581.3 806.7 L583.4 812.1 L588.4 816.7 L595 816.7 L597.5 795Z" fill="#fff" stroke="#000" stroke-width="2.8" stroke-linejoin="round"/>
<path class="m" d="M585 797.5 L589.2 795.8"/>
<path class="m" d="M583.4 805 L587.5 806.7 L585.9 811.7"/>
<ellipse cx="601.5" cy="804.3" rx="11.3" ry="16.3" transform="rotate(22 601.5 804.3)" fill="#fff" stroke="#000" stroke-width="3"/>
<path class="n" d="M601.7 790.8 C600.6 791.7 596.8 793.8 595 795.8 C593.2 797.9 591.6 800.8 590.9 803.3 C590.1 805.8 590.2 808.9 590.5 810.8 C590.7 812.8 592.2 814.3 592.5 815"/>
<path d="M604.2 801 C605.3 801 606.6 801.3 610.9 803.3 C615.1 805.4 636.6 816.2 640.9 818.3 C645.1 820.5 646.5 820.9 647.5 821.8 C648.6 822.8 649.6 825.4 649.6 826.7 C649.6 827.9 648.4 831.6 647.5 832.5 C646.7 833.4 643.7 834.6 642.5 834.6 C641.4 834.6 641.6 834.6 637.5 832.5 C633.4 830.4 611.8 819.1 607.5 816.8 C603.3 814.6 602.2 814.5 601.3 813.5 C600.3 812.5 599.4 809.2 599.4 807.9 C599.3 806.7 600.5 803.7 601 802.9 C601.6 802.1 603.1 801 604.2 801Z" fill="#fff" stroke="#000" stroke-width="2.8" stroke-linejoin="round"/>
<path class="b" d="M624.6 810.7 C624.1 811.4 622.2 813.2 621.7 814.8 C621.2 816.5 621.7 819.7 621.7 820.7"/>
<path class="b" d="M629.6 813.2 C629.1 813.9 627.2 815.7 626.7 817.3 C626.2 819 626.7 822.2 626.7 823.2"/>
<path class="b" d="M634.6 815.7 C634.1 816.4 632.2 818.2 631.7 819.8 C631.2 821.5 631.7 824.7 631.7 825.7"/>
<path class="b" d="M639.6 818.2 C639.1 818.9 637.2 820.7 636.7 822.3 C636.2 824 636.7 827.2 636.7 828.2"/>
<path class="b" d="M644.6 820.7 C644.1 821.4 642.2 823.2 641.7 824.8 C641.2 826.5 641.7 829.7 641.7 830.7"/>
<path class="l" d="M680.2 701 V716"/>
<path class="n" d="M686.7 707 V713"/>
<path class="l" d="M670.8 738.3 L613.3 789.2"/>
</g>
<g id="part_07_sprocket">
<path class="m" d="M1747.6 817.5 C1747.1 818.4 1746.5 819.4 1746.6 820.7 C1746.7 822 1748.1 824.3 1748.3 825.6 C1748.5 826.9 1748.3 827.8 1747.8 828.5 C1747.3 829.2 1746.5 829.6 1745.4 829.6 C1744.2 829.6 1742 828.4 1740.9 828.5 C1739.7 828.6 1739 829.4 1738.3 830.2 C1737.6 831 1736.9 831.8 1736.7 833.3 C1736.4 834.8 1737.1 837.7 1736.9 839.2 C1736.8 840.6 1736.3 841.6 1735.7 842.1 C1735.1 842.7 1734.4 842.9 1733.4 842.4 C1732.4 842 1730.9 839.9 1729.9 839.5 C1728.9 839.2 1728.1 839.8 1727.3 840.4 C1726.5 841 1725.7 841.6 1725.1 843.1 C1724.6 844.6 1724.4 848 1723.9 849.5 C1723.4 851.1 1722.8 851.9 1722.2 852.3 C1721.5 852.6 1720.8 852.6 1720.1 851.7 C1719.4 850.9 1718.6 848.1 1717.9 847.3 C1717.1 846.6 1716.3 847 1715.5 847.3 C1714.7 847.6 1713.9 847.9 1713 849.4 C1712.1 850.8 1711.1 854.4 1710.3 855.8 C1709.5 857.3 1708.8 858 1708.2 858.1 C1707.6 858.3 1707 857.9 1706.6 856.8 C1706.2 855.6 1706.3 852.3 1705.8 851.2 C1705.4 850.1 1704.6 850.2 1703.8 850.3 C1703 850.3 1702.3 850.4 1701.2 851.6 C1700.1 852.8 1698.4 856.3 1697.4 857.5 C1696.3 858.8 1695.5 859.3 1695 859.2 C1694.4 859.1 1694 858.6 1694 857.2 C1693.9 855.8 1694.8 852.2 1694.7 850.9 C1694.6 849.5 1693.9 849.3 1693.2 849.1 C1692.6 848.9 1691.9 848.7 1690.7 849.6 C1689.5 850.5 1687.2 853.6 1686 854.5 C1684.8 855.5 1684 855.7 1683.6 855.4 C1683.1 855.2 1682.9 854.4 1683.2 852.9 C1683.5 851.4 1685.2 847.9 1685.4 846.4 C1685.6 844.9 1685.1 844.4 1684.6 843.9 C1684.1 843.5 1683.6 842.9 1682.4 843.5 C1681.1 844 1678.4 846.5 1677.1 847.1 C1675.9 847.7 1675.2 847.6 1674.9 847.1 C1674.6 846.7 1674.6 845.8 1675.2 844.3 C1675.9 842.7 1678.1 839.6 1678.7 838.1 C1679.3 836.5 1678.9 835.9 1678.6 835.1 C1678.3 834.4 1678 833.7 1676.9 833.8 C1675.7 833.9 1672.8 835.5 1671.6 835.7 C1670.4 835.9 1669.8 835.6 1669.6 834.9 C1669.5 834.3 1669.7 833.4 1670.7 832 C1671.6 830.6 1674.3 828 1675.1 826.6 C1676 825.2 1675.9 824.3 1675.8 823.4 C1675.7 822.6 1675.6 821.7 1674.6 821.3 C1673.6 821 1670.7 821.7 1669.7 821.4 C1668.6 821.2 1668.2 820.6 1668.3 819.9 C1668.3 819.1 1668.7 818.2 1669.9 817.1 C1671 815.9 1673.9 814.1 1675 812.9 C1676 811.7 1676.1 810.8 1676.3 809.8 C1676.5 808.8 1676.6 807.8 1675.9 807.1 C1675.1 806.3 1672.5 806 1671.7 805.3 C1670.8 804.7 1670.6 803.9 1670.9 803.1 C1671.1 802.4 1671.7 801.5 1672.9 800.7 C1674.1 799.9 1677 799.1 1678.2 798.2 C1679.4 797.3 1679.8 796.3 1680.1 795.3 C1680.5 794.3 1680.9 793.3 1680.4 792.2 C1680 791.1 1677.9 789.8 1677.3 788.8 C1676.8 787.7 1676.8 786.8 1677.2 786.1 C1677.6 785.3 1678.3 784.7 1679.5 784.2 C1680.8 783.8 1683.4 784 1684.7 783.5 C1685.9 783 1686.4 782 1687 781.1 C1687.5 780.2 1688.1 779.2 1688 777.9 C1687.9 776.6 1686.5 774.3 1686.3 773 C1686.1 771.7 1686.3 770.8 1686.8 770.1 C1687.3 769.4 1688.1 769 1689.2 769 C1690.4 769 1692.6 770.2 1693.7 770.1 C1694.9 770 1695.6 769.2 1696.3 768.4 C1697 767.6 1697.7 766.8 1697.9 765.3 C1698.2 763.8 1697.5 760.9 1697.7 759.4 C1697.8 758 1698.3 757 1698.9 756.5 C1699.5 755.9 1700.2 755.7 1701.2 756.2 C1702.2 756.6 1703.7 758.7 1704.7 759.1 C1705.7 759.4 1706.5 758.8 1707.3 758.2 C1708.1 757.6 1708.9 757 1709.5 755.5 C1710 754 1710.2 750.6 1710.7 749.1 C1711.2 747.5 1711.8 746.7 1712.4 746.3 C1713.1 746 1713.8 746 1714.5 746.9 C1715.2 747.7 1716 750.5 1716.7 751.3 C1717.5 752 1718.3 751.6 1719.1 751.3 C1719.9 751 1720.7 750.7 1721.6 749.2 C1722.5 747.8 1723.5 744.2 1724.3 742.8 C1725.1 741.3 1725.8 740.6 1726.4 740.5 C1727 740.3 1727.6 740.7 1728 741.8 C1728.4 743 1728.3 746.3 1728.8 747.4 C1729.2 748.5 1730 748.4 1730.8 748.3 C1731.6 748.3 1732.3 748.2 1733.4 747 C1734.5 745.8 1736.2 742.3 1737.2 741.1 C1738.3 739.8 1739.1 739.3 1739.6 739.4 C1740.2 739.5 1740.6 740 1740.6 741.4 C1740.7 742.8 1739.8 746.4 1739.9 747.7 C1740 749.1 1740.7 749.3 1741.4 749.5 C1742 749.7 1742.7 749.9 1743.9 749 C1745.1 748.1 1747.4 745 1748.6 744.1 C1749.8 743.1 1750.6 742.9 1751 743.2 C1751.5 743.4 1751.7 744.2 1751.4 745.7 C1751.1 747.2 1749.4 750.7 1749.2 752.2 C1749 753.7 1749.5 754.2 1750 754.7 C1750.5 755.1 1751 755.7 1752.2 755.1 C1753.5 754.6 1756.2 752.1 1757.5 751.5 C1758.7 750.9 1759.4 751 1759.7 751.5 C1760 751.9 1760 752.8 1759.4 754.3 C1758.7 755.9 1756.5 759 1755.9 760.5 C1755.3 762.1 1755.7 762.7 1756 763.5 C1756.3 764.2 1756.6 764.9 1757.7 764.8 C1758.9 764.7 1761.8 763.1 1763 762.9 C1764.2 762.7 1764.8 763 1765 763.7 C1765.1 764.3 1764.9 765.2 1763.9 766.6 C1763 768 1760.3 770.6 1759.5 772 C1758.6 773.4 1758.7 774.3 1758.8 775.2 C1758.9 776 1759 776.9 1760 777.3 C1761 777.6 1763.9 776.9 1764.9 777.2 C1766 777.4 1766.4 778 1766.3 778.7 C1766.3 779.5 1765.9 780.4 1764.7 781.5 C1763.6 782.7 1760.7 784.5 1759.6 785.7 C1758.6 786.9 1758.5 787.8 1758.3 788.8 C1758.1 789.8 1758 790.8 1758.7 791.5 C1759.5 792.3 1762.1 792.6 1762.9 793.3 C1763.8 793.9 1764 794.7 1763.7 795.5 C1763.5 796.2 1762.9 797.1 1761.7 797.9 C1760.5 798.7 1757.6 799.5 1756.4 800.4 C1755.2 801.3 1754.8 802.3 1754.5 803.3 C1754.1 804.3 1753.7 805.3 1754.2 806.4 C1754.6 807.5 1756.7 808.8 1757.3 809.8 C1757.8 810.9 1757.8 811.8 1757.4 812.5 C1757 813.3 1756.3 813.9 1755.1 814.4 C1753.8 814.8 1751.2 814.6 1749.9 815.1 C1748.7 815.6 1748.2 816.6 1747.6 817.5Z"/>
<path class="n" d="M1683.4 856.1 C1682.9 856.2 1681 857 1680.4 856.6 C1679.7 856.2 1679.4 855 1679.5 853.7 C1679.5 852.4 1680.5 849.7 1680.7 848.9"/>
<path class="n" d="M1674.4 848.8 C1673.9 848.8 1672.1 849 1671.7 848.3 C1671.2 847.7 1671.3 846.2 1671.7 844.8 C1672 843.4 1673.5 840.9 1673.9 840.1"/>
<path class="n" d="M1668.6 837.7 C1668.2 837.4 1666.7 837 1666.4 836.1 C1666.2 835.3 1666.6 833.7 1667.3 832.3 C1667.9 831 1669.9 828.8 1670.4 828.1"/>
<path class="n" d="M1666.5 823.6 C1666.3 823.1 1665 822.1 1665.1 821.1 C1665.1 820 1665.8 818.5 1666.7 817.3 C1667.6 816.1 1669.8 814.4 1670.4 813.9"/>
<path class="n" d="M1668.2 807.5 C1668.1 807 1667.4 805.4 1667.7 804.3 C1667.9 803.2 1668.9 801.9 1670 800.9 C1671 799.9 1673.3 798.9 1673.9 798.5"/>
<path class="n" d="M1673.7 790.9 C1673.8 790.3 1673.5 788.4 1674 787.3 C1674.5 786.2 1675.7 785.1 1676.8 784.5 C1678 783.8 1680.1 783.6 1680.7 783.4"/>
<path class="n" d="M1682.4 775.1 C1682.6 774.5 1682.9 772.3 1683.6 771.3 C1684.3 770.3 1685.6 769.6 1686.7 769.3 C1687.8 769 1689.7 769.6 1690.2 769.6"/>
<path class="n" d="M1693.7 761.4 C1694.1 760.8 1694.8 758.5 1695.7 757.7 C1696.5 756.9 1697.8 756.6 1698.8 756.7 C1699.8 756.8 1701.2 758.1 1701.7 758.4"/>
<path class="n" d="M1706.7 750.8 C1707.1 750.2 1708.3 748.1 1709.2 747.5 C1710.1 747 1711.3 747.1 1712.1 747.6 C1712.9 748.1 1713.8 750 1714.1 750.5"/>
<path class="n" d="M1720.2 744.2 C1720.7 743.8 1722.3 741.9 1723.2 741.7 C1724.1 741.5 1725 742 1725.6 742.9 C1726.1 743.7 1726.4 746.1 1726.6 746.7"/>
<path class="n" d="M1733.3 742.2 C1733.8 742 1735.6 740.5 1736.4 740.6 C1737.2 740.7 1737.9 741.6 1738.1 742.7 C1738.4 743.9 1738 746.5 1738 747.3"/>
<path class="n" d="M1744.8 744.9 C1745.3 744.8 1747.2 744 1747.8 744.4 C1748.5 744.8 1748.8 746 1748.7 747.3 C1748.7 748.6 1747.7 751.3 1747.5 752.1"/>
<ellipse class="m" cx="1716.7" cy="800" rx="23.6" ry="44" transform="rotate(34 1716.7 800)"/>
<path class="h" d="M1715.4 767.1 L1714.6 834.2"/>
<path class="h" d="M1717.7 766.2 L1716.7 834.6"/>
<path class="m" d="M1723.3 763.8 L1722.5 830"/>
<path class="b" d="M1687.7 810.4 L1711.7 799.2"/>
<path class="n" d="M1688.8 820.4 L1710 808.8"/>
<path class="b" d="M1727.5 791.7 L1747.1 778.8"/>
<path class="n" d="M1727.5 798.5 L1747.1 788.3"/>
<path d="M1730 790.4 L1745.8 780" class="wd" stroke-width="1" stroke-dasharray="3 2"/>
<ellipse cx="1718.5" cy="801" rx="7.6" ry="10" transform="rotate(31 1718.5 801)" fill="#fff" stroke="#000" stroke-width="2.2"/>
<path class="b" d="M1722.5 798.3 C1721.8 798.2 1719.6 796.9 1718.3 797.5 C1717.1 798.1 1715.3 800.4 1715 801.7 C1714.7 802.9 1715.7 804.6 1716.7 805 C1717.6 805.4 1720.1 804.3 1720.8 804.2"/>
<path class="m" d="M1718.3 801.7 L1721.7 800.8"/>
<path class="h" d="M1675.4 777.5 L1680.8 781.7"/>
<path class="h" d="M1700 860 L1700.4 863.3"/>
<path d="M1775 818.8 C1772.2 818.6 1769.2 819.4 1766.7 820.8 C1764.2 822.3 1761.5 824.9 1760 827.5 C1758.5 830.1 1757.5 834 1757.5 836.7 C1757.5 839.3 1758.5 841.5 1760 843.3 C1761.5 845.1 1764.2 846.8 1766.7 847.5 C1769.2 848.2 1772.8 847 1775 847.5 C1777.2 848 1778.3 850.1 1780 850.4 C1781.7 850.7 1783.3 850.3 1785 849.2 C1786.7 848 1788.9 845.7 1790 843.3 C1791.1 841 1791.7 837.4 1791.7 835 C1791.7 832.6 1791.4 831.4 1790 829.2 C1788.6 826.9 1785.8 823.4 1783.3 821.7 C1780.8 819.9 1777.8 818.9 1775 818.8Z" fill="#fff" stroke="#000" stroke-width="2.6" stroke-linejoin="round"/>
<path class="n" d="M1770.8 823.3 C1769.7 824.3 1765.7 826.8 1764.2 829.2 C1762.6 831.5 1761.8 835 1761.7 837.5 C1761.5 840 1763.1 843.1 1763.3 844.2"/>
<path class="n" d="M1773.3 825 C1772.4 826 1768.8 828.5 1767.5 830.8 C1766.2 833.2 1765.6 836.7 1765.4 839.2 C1765.3 841.7 1766.5 844.7 1766.7 845.8"/>
<path class="m" d="M1775 827.5 L1780 829.2 L1785 832.5"/>
<path class="n" d="M1780 829.2 L1778.3 833.3 L1773.3 840"/>
<path class="m" d="M1769.2 839.2 L1773.3 840 L1774.2 845.8"/>
<ellipse cx="1783.3" cy="840.4" rx="3.3" ry="5.4" transform="rotate(24 1783.3 840.4)" fill="#000" stroke="#000" stroke-width="1.5"/>
<path d="M1782.5 842.5 L1784.3 838.8" class="wd" stroke-width="1.2"/>
<path class="h" d="M1741.7 814.2 L1761.7 826.2"/>
<path class="h" d="M1790.8 843.8 L1800.8 849.2"/>
<path class="l" d="M1791.5 835 H1829"/>
</g>
<g id="part_08_harness">
<path class="m" d="M890 751.7 C887.2 750.6 878.9 747.1 873.3 745.4 C867.7 743.7 861.8 742.2 856.6 741.2 C851.4 740.3 846.6 739.8 842.1 739.7 C837.5 739.6 833.4 739.4 829.6 740.7 C825.7 742 822.1 744.6 819.2 747.5 C816.2 750.4 813.5 754.3 811.9 757.9 C810.2 761.6 809.4 765.5 809.3 769.4 C809.1 773.2 809.2 776.8 810.8 780.8 C812.5 784.8 815.3 789.1 819.2 793.3 C823 797.5 828.2 801.6 833.7 805.8 C839.3 810 847.6 815 852.5 818.3 C857.3 821.6 860.5 823.3 862.9 825.6 C865.3 827.8 866.1 829.4 867.1 831.8 C868 834.3 867.6 838.3 868.6 840.2 C869.7 842 871.7 842.7 873.3 842.8 C874.9 842.8 877.6 840.8 878.5 840.4"/>
<path class="m" d="M884.8 770.4 C882.8 769.7 878 768 873.3 766.2 C868.6 764.5 861.2 761.5 856.6 760 C852.1 758.5 849.7 757.7 846.2 757.4 C842.8 757 838.6 757.1 835.8 757.9 C833 758.7 831 760 829.6 762.1 C828.1 764.2 827 767.6 827 770.4 C827 773.2 827.9 775.6 829.6 778.7 C831.2 781.9 834.1 786 836.9 789.1 C839.6 792.3 841.9 794.5 846.2 797.5 C850.6 800.4 858 804.1 862.9 806.8 C867.7 809.6 871.9 811.4 875.4 814.1 C878.9 816.9 880.4 821.1 883.7 823.5 C887 825.9 893.3 827 895.2 828.7 C897.1 830.4 895.9 832.4 895.2 833.9 C894.5 835.4 891.7 837 891 837.6"/>
<path class="n" d="M829 760.5 C828.1 762.2 824.5 767 823.3 770.4 C822.1 773.8 821.8 777.7 821.8 780.8 C821.8 783.9 822.5 787.4 823.3 789.1 C824.1 790.9 825.8 792.3 826.4 791.2 C827.1 790.2 826.9 784.3 827 782.9"/>
<path class="n" d="M890 751.7 C889.2 753.2 886.1 757.9 885.3 761 C884.4 764.2 884.1 768.1 884.8 770.4 C885.4 772.7 888.2 773.9 888.9 774.6"/>
<path class="m" d="M890 751.7 L896.2 749.6 L917 757.4"/>
<path class="m" d="M888.9 774.6 L907.7 781.9"/>
<path class="b" d="M917 757.4 C915.8 759 911.2 763.5 909.7 767.3 C908.3 771 907.7 777.2 908.2 779.8 C908.7 782.4 912.1 782.4 912.9 782.9"/>
<path class="n" d="M917 757.4 L925.4 762.1 L956.6 776.6 L994.1 794.9"/>
<path class="n" d="M912.9 782.9 C914.8 782.7 920.5 781.2 924.3 781.9 C928.1 782.5 931.3 784.6 935.8 787.1 C940.3 789.5 945.8 793.6 951.4 796.4 C956.9 799.3 966.1 802.9 969.1 804.2"/>
<path class="h" d="M928.5 780.3 C929.4 780.5 931.1 779.9 933.7 781.3 C936.3 782.8 942.4 787.8 944.1 789.1"/>
<path class="n" d="M976.4 808.4 L984.7 813.1"/>
<path class="n" d="M872.3 830.3 L884.2 826.6"/>
<path class="n" d="M876.4 832.4 L879.5 837.6"/>
<path class="m" d="M883.2 830 L884.2 830.6"/>
<path class="f" d="M877.5 839.2 L890 837.5 L891.7 850 L898.3 855.8 L885.8 863.3 L873.3 856.2 L877.5 851.7Z"/>
<rect x="883" y="840.8" width="2.6" height="6" fill="#fff"/>
<rect x="884.6" y="850" width="2" height="2" fill="#fff"/>
<path class="m" d="M873.3 856.2 L870 855.8 L867.9 871.7 L865 873.3 L863.3 872.5 L859.2 893.3 L880 902.5 L881.7 908.8 L891.7 900 L897.5 889.2 L899.2 870.8 L896.7 868.3 L896.7 856.7 L898.3 855.8"/>
<path class="m" d="M873.3 856.2 L885 863.3 L896.7 856.7"/>
<path class="m" d="M885 863.3 L882.1 876.7"/>
<path class="m" d="M867.9 871.7 L880 879.2 L896.7 868.3"/>
<path class="n" d="M863.3 872.5 L880 882.5 L899.2 870.8"/>
<path class="m" d="M880 882.5 L878.3 901.7"/>
<path class="m" d="M886.7 880.8 L884.2 900"/>
<path class="n" d="M888.3 881.7 L887.5 898.3 L891.7 900"/>
<path class="b" d="M893.3 875.8 L891.7 893.3"/>
<path class="b" d="M896.7 874.2 L895.8 888.3"/>
<path class="n" d="M883.3 883.3 L895 876.7"/>
<ellipse class="b" cx="992.1" cy="805.8" rx="5.6" ry="10" transform="rotate(22 992.1 805.8)"/>
<path class="h" d="M987.5 798.3 C987.1 799.4 985.3 802.6 985 805 C984.7 807.4 985.7 811.2 985.8 812.5"/>
<path class="m" d="M976.2 808.8 L984.2 813.3"/>
<path d="M995 801.2 C997.2 801.4 1003.9 801 1008.3 802.1 C1012.8 803.2 1017.5 805.7 1021.7 807.9 C1025.8 810.1 1029.6 812.8 1033.3 815.4 C1037.1 818.1 1041.4 821 1044.2 823.8 C1046.9 826.5 1047.9 829.6 1050 832.1 C1052.1 834.6 1054.4 836.7 1056.7 838.8 C1058.9 840.8 1061.2 843.3 1063.3 844.6 C1065.4 845.8 1068.2 846 1069.2 846.2" stroke="#000" stroke-width="4.4" fill="none" stroke-linecap="round"/>
<path d="M995 801.2 C997.2 801.4 1003.9 801 1008.3 802.1 C1012.8 803.2 1017.5 805.7 1021.7 807.9 C1025.8 810.1 1029.6 812.8 1033.3 815.4 C1037.1 818.1 1041.4 821 1044.2 823.8 C1046.9 826.5 1047.9 829.6 1050 832.1 C1052.1 834.6 1054.4 836.7 1056.7 838.8 C1058.9 840.8 1061.2 843.3 1063.3 844.6 C1065.4 845.8 1068.2 846 1069.2 846.2" class="wd" stroke-width="1.1" stroke-dasharray="3 3.5"/>
<path d="M992.9 806.7 C994.5 807.6 999.5 809.8 1002.5 812.1 C1005.5 814.4 1008.6 817.4 1010.8 820.4 C1013.1 823.4 1014.7 826.5 1015.8 830 C1016.9 833.5 1016.8 838.2 1017.5 841.7 C1018.2 845.1 1018.5 847.8 1020 850.8 C1021.5 853.9 1024.2 857.1 1026.7 860 C1029.2 862.9 1032.5 866 1035 868.3 C1037.5 870.7 1040.6 873.2 1041.7 874.2" stroke="#000" stroke-width="5.6" fill="none" stroke-linecap="round"/>
<path d="M992.9 806.7 C994.5 807.6 999.5 809.8 1002.5 812.1 C1005.5 814.4 1008.6 817.4 1010.8 820.4 C1013.1 823.4 1014.7 826.5 1015.8 830 C1016.9 833.5 1016.8 838.2 1017.5 841.7 C1018.2 845.1 1018.5 847.8 1020 850.8 C1021.5 853.9 1024.2 857.1 1026.7 860 C1029.2 862.9 1032.5 866 1035 868.3 C1037.5 870.7 1040.6 873.2 1041.7 874.2" class="wd" stroke-width="1.5"/>
<path class="h" d="M1002.5 831 V847.5" stroke-dasharray="7 3"/>
<path class="f" d="M1063.8 843.3 L1069.2 841.2 L1074.2 843.3 L1070.8 847.5 L1070 852.5 L1066.7 851.7Z"/>
<path d="M1074.2 843.3 L1082.5 835.8 L1086.7 835.4 L1107.5 845.8 L1108.3 851.7 L1123.3 856.7 L1124.2 865.8 L1110 876.7 L1105 877.5 L1069.2 860 L1070 847.5Z" fill="#fff" stroke="#000" stroke-width="2.8" stroke-linejoin="round"/>
<path class="m" d="M1074.2 845.8 L1095 855"/>
<path class="m" d="M1078.3 843.3 L1098.3 852.5"/>
<path class="m" d="M1083.3 839.2 L1102.5 848.3"/>
<path class="b" d="M1103.3 845 L1095 855 L1094.2 861.7"/>
<path class="b" d="M1107.5 846.7 L1100 855 L1097.5 862.5"/>
<path class="m" d="M1096.7 862.5 L1108.3 868.3 L1108.3 876.7"/>
<path class="m" d="M1108.3 868.3 L1123.3 857.5"/>
<path class="f" d="M1101.7 857.9 L1105 857.1 L1112.5 860.4 L1110 862.1Z"/>
<path class="f" d="M1110.8 867.5 L1123.3 858.3 L1123.8 865 L1111.7 874.2Z"/>
<path d="M1112.5 872.5 L1122.5 865" class="wd" stroke-width="1.2"/>
<path d="M1040.8 878.3 L1041.7 872.7 L1048.3 872.5 L1050.8 876.7 L1058.3 882.5 L1063.3 884.6 L1059.2 891.7 L1055 889.2 L1045.8 884.2 L1040.8 882.5Z" fill="#fff" stroke="#000" stroke-width="2.6" stroke-linejoin="round"/>
<path class="m" d="M1047.5 875.8 L1045.8 883.3"/>
<path class="m" d="M1053.3 880 L1051.7 886.7"/>
<path class="n" d="M1041.7 878.3 L1045.8 879.2"/>
<ellipse cx="1068.2" cy="894.8" rx="8.4" ry="11.4" transform="rotate(12 1068.2 894.8)" fill="#fff" stroke="#000" stroke-width="3.6"/>
<ellipse class="m" cx="1070" cy="895.4" rx="3.6" ry="6.3" transform="rotate(14 1070 895.4)"/>
</g>
<g id="part_09_starter">
<path class="n" d="M1132.5 982.5 L1026.2 926" style="stroke-width:1.9"/>
<path class="n" d="M1026.2 926 C1025.2 925.6 1022.1 924.2 1020 923.8 C1017.9 923.3 1017.1 922.7 1013.8 923.2 C1010.4 923.8 1004.4 924.7 1000 926.9 C995.6 929 991.7 932.4 987.5 936.2 C983.3 940.1 978.8 945.2 975 950 C971.2 954.8 967.9 959.6 965 965 C962.1 970.4 959.3 977.1 957.5 982.5 C955.7 987.9 954.9 992.7 954.4 997.5 C953.8 1002.3 953.5 1006.9 954.1 1011.2 C954.8 1015.6 956 1020.2 958.1 1023.8 C960.2 1027.2 964.5 1030.3 966.9 1032.2 C969.3 1034.2 971.6 1034.8 972.5 1035.2" style="stroke-width:1.9"/>
<path class="n" d="M972.5 1035.2 L1041.2 1072.5" style="stroke-width:1.9"/>
<path class="h" d="M1012.5 924 C1009.2 925.6 998.3 930.2 992.5 933.8 C986.7 937.2 982.1 940.2 977.5 945 C972.9 949.8 968.3 956.7 965 962.5 C961.7 968.3 959.4 974.6 957.5 980 C955.6 985.4 954.2 990.2 953.5 995 C952.8 999.8 953.3 1006.5 953.2 1008.8"/>
<path class="n" d="M949.4 1007.9 L954.4 1007.9"/>
<path class="n" d="M1133.1 985 C1132.2 984 1130.1 980.6 1127.5 978.8 C1124.9 976.9 1121.5 974.7 1117.5 973.8 C1113.5 972.8 1108.3 972.3 1103.8 973.1 C1099.2 974 1094.8 975.5 1090 978.8 C1085.2 982 1079.4 987.3 1075 992.5 C1070.6 997.7 1066.9 1003.8 1063.8 1010 C1060.6 1016.2 1058.1 1024 1056.2 1030 C1054.4 1036 1053.1 1041.2 1052.5 1046.2 C1051.9 1051.2 1052.5 1057.7 1052.5 1060"/>
<path class="n" d="M1125 980 C1123.3 979.6 1118.3 977.9 1115 977.5 C1111.7 977.1 1109 976.7 1105 977.5 C1101 978.3 1095.8 979.6 1091.2 982.5 C1086.7 985.4 1081.7 990 1077.5 995 C1073.3 1000 1069.4 1006.2 1066.2 1012.5 C1063.1 1018.8 1060.6 1025.6 1058.8 1032.5 C1056.9 1039.4 1055.6 1050.2 1055 1053.8"/>
<path class="m" d="M1133.1 986.2 L1142.5 990 L1150 995.6 L1177.5 995.6 L1188.8 1000 L1198.8 1005"/>
<path class="m" d="M1190 1003.8 C1191.9 1004.4 1198.8 1005.2 1201.2 1007.5 C1203.8 1009.8 1205 1013.8 1205 1017.5 C1205 1021.2 1203.3 1026.7 1201.2 1030 C1199.2 1033.3 1195.4 1036 1192.5 1037.5 C1189.6 1039 1185.2 1038.5 1183.8 1038.8"/>
<ellipse class="n" cx="1192.1" cy="1021.6" rx="5.6" ry="8.8" transform="rotate(22 1192.1 1021.6)"/>
<path class="n" d="M1132.5 986.2 C1131.6 986.5 1127.8 987.1 1125 988.8 C1122.2 990.4 1112.1 996.9 1108.8 1000 C1105.4 1003.1 1098.7 1011.5 1096.2 1015 C1093.8 1018.5 1089 1028 1087.5 1030 C1086 1032 1087.2 1029.6 1083.8 1032.5 C1080.2 1035.4 1061.1 1051.8 1057.5 1055 C1053.9 1058.2 1054 1058.7 1052.5 1060 C1051 1061.3 1046.2 1064.5 1045 1066.2 C1043.8 1068 1042.2 1072.7 1041.9 1075 C1041.5 1077.3 1041.4 1084.2 1041.9 1086.2 C1042.4 1088.3 1044.3 1091.2 1046.2 1092.5 C1048.2 1093.8 1056.4 1096.8 1058.8 1097.5 C1061.1 1098.2 1064.5 1098.6 1066.2 1098.1 C1068 1097.7 1072.3 1094.8 1073.8 1093.8 C1075.2 1092.7 1078.2 1089.3 1078.8 1088.8"/>
<path class="n" d="M1068.8 1066.2 L1115 1017.5 L1130 1005 L1140 1003.8 L1190 1003.8"/>
<path class="n" d="M1052.5 1062.5 L1063.8 1067.5 L1068.8 1066.2"/>
<path class="n" d="M1107.5 1011.2 L1115 1015 L1138.8 1005 L1132.5 1001.2"/>
<path class="h" d="M1127.5 991.2 L1142.5 998.8 L1148.8 998.1"/>
<path class="h" d="M1140 1001.2 L1177.5 998.1 L1188.8 1001.2"/>
<ellipse class="n" cx="1071.2" cy="1082.5" rx="6.2" ry="8.2" transform="rotate(22 1071.2 1082.5)"/>
<path class="n" d="M1059.4 1096.2 C1059.3 1094.4 1058.3 1088.5 1058.8 1085 C1059.2 1081.5 1060.4 1077.7 1061.9 1075 C1063.3 1072.3 1065.3 1070.2 1067.5 1068.8 C1069.7 1067.3 1073.8 1066.7 1075 1066.2"/>
<path class="n" d="M1078.8 1088.8 L1132.5 1071.2"/>
<path class="n" d="M1072.5 1066.2 L1111.2 1047.5"/>
<path class="h" d="M1078.8 1066.5 L1111.2 1050.6"/>
<path class="n" d="M1157.5 1029.4 C1155.5 1028.2 1143.5 1020.2 1140 1019.4 C1136.5 1018.6 1130.1 1021 1127.5 1022.5 C1124.9 1024 1119.4 1029.6 1117.5 1032.5 C1115.6 1035.4 1112 1044 1111.2 1047.5 C1110.5 1051 1110.8 1059.9 1111.2 1062.5 C1111.7 1065.1 1112.2 1068 1115 1070 C1117.8 1072 1132.7 1078.8 1135 1080"/>
<path class="n" d="M1157.5 1029.4 C1160.8 1028.8 1162.7 1029.5 1165 1031.2 C1167.3 1033 1170 1036.5 1171.2 1040 C1172.5 1043.5 1173.1 1047.9 1172.5 1052.5 C1171.9 1057.1 1170 1062.9 1167.5 1067.5 C1165 1072.1 1161 1077.3 1157.5 1080 C1154 1082.7 1149.8 1083.5 1146.2 1083.8 C1142.7 1084 1138.8 1083.3 1136.2 1081.2 C1133.8 1079.2 1132.1 1075 1131.2 1071.2 C1130.4 1067.5 1130.4 1063.1 1131.2 1058.8 C1132.1 1054.4 1134 1049 1136.2 1045 C1138.5 1041 1141.5 1037.6 1145 1035 C1148.5 1032.4 1154.2 1030 1157.5 1029.4Z"/>
<path class="n" d="M1155 1025.6 L1185 1012.5"/>
<path class="h" d="M1157.5 1028.1 L1183.8 1016.2"/>
<path class="n" d="M1172.5 1040.6 L1183.8 1036.2"/>
<path class="n" d="M1173.8 1047.5 L1185 1037.5"/>
<path d="M1151.2 1048.8 L1171.2 1056.9 L1168.8 1071.2 L1163.8 1072.5 L1148.8 1066.2 L1144.4 1061.2 L1145 1052.5Z" fill="#fff" stroke="#000" stroke-width="2.4" stroke-linejoin="round"/>
<path d="M1147.8 1051 L1147 1065" class="n"/>
<path d="M1150.9 1052.3 L1150.1 1066.3" class="n"/>
<path d="M1154 1053.6 L1153.2 1067.6" class="n"/>
<path d="M1157.1 1054.9 L1156.4 1068.9" class="n"/>
<path d="M1160.2 1056.2 L1159.5 1070.2" class="n"/>
<path d="M1163.4 1057.6 L1162.6 1071.6" class="n"/>
<path d="M1166.5 1058.9 L1165.8 1072.9" class="n"/>
<g transform="translate(1185.3 1072.4) rotate(20)"><ellipse rx="20" ry="27.3" fill="none" stroke="#000" stroke-width="5.2"/><ellipse class="wd" rx="20" ry="27.3" stroke-width="1.1" stroke-dasharray="1.8 2.8"/></g>
<path class="h" d="M1177.5 1067.5 L1200 1076.2" stroke-dasharray="8 3"/>
</g>
<g id="part_10_gear">
<path class="h" d="M1253.8 1110 L1273.8 1118.1"/>
<path d="M1294.2 1203.4 L1288.2 1200.7 L1300.1 1206 L1306.1 1208.7Z" fill="#fff" stroke="#000" stroke-width="3.2" stroke-linejoin="round"/>
<path class="n" d="M1294.8 1203.6 L1303.1 1207.3" style="stroke-width:2.2"/>
<path d="M1284.8 1197.9 L1280.5 1193 L1294 1199.2 L1298.3 1204.1Z" fill="#fff" stroke="#000" stroke-width="3.2" stroke-linejoin="round"/>
<path class="n" d="M1286.2 1197.7 L1295.7 1202" style="stroke-width:2.2"/>
<path d="M1278.4 1189.2 L1276.8 1182.8 L1291.9 1189.9 L1293.5 1196.2Z" fill="#fff" stroke="#000" stroke-width="3.2" stroke-linejoin="round"/>
<path class="n" d="M1281.8 1188.2 L1292.4 1193.2" style="stroke-width:2.2"/>
<path d="M1276.1 1178.4 L1275.5 1171.9 L1290.9 1179.3 L1291.6 1185.9Z" fill="#fff" stroke="#000" stroke-width="3.2" stroke-linejoin="round"/>
<path class="n" d="M1280.3 1177.4 L1291.1 1182.6" style="stroke-width:2.2"/>
<path d="M1275.2 1167.4 L1275.2 1160.8 L1290.7 1168.5 L1290.8 1175.1Z" fill="#fff" stroke="#000" stroke-width="3.2" stroke-linejoin="round"/>
<path class="n" d="M1279.7 1166.4 L1290.6 1171.8" style="stroke-width:2.2"/>
<path d="M1275.6 1156.4 L1276.3 1149.8 L1291.9 1157.7 L1291.2 1164.3Z" fill="#fff" stroke="#000" stroke-width="3.2" stroke-linejoin="round"/>
<path class="n" d="M1280.6 1155.5 L1291.5 1161" style="stroke-width:2.2"/>
<path d="M1277.6 1145.6 L1279.5 1139.3 L1295.2 1147.4 L1293.3 1153.7Z" fill="#fff" stroke="#000" stroke-width="3.2" stroke-linejoin="round"/>
<path class="n" d="M1283.3 1144.9 L1294.2 1150.6" style="stroke-width:2.2"/>
<path d="M1280.8 1135.1 L1283.9 1129.2 L1299.6 1137.5 L1296.6 1143.4Z" fill="#fff" stroke="#000" stroke-width="3.2" stroke-linejoin="round"/>
<path class="n" d="M1287 1134.6 L1298 1140.4" style="stroke-width:2.2"/>
<path d="M1286.1 1125.4 L1289.5 1119.7 L1304.9 1129 L1301.5 1134.7Z" fill="#fff" stroke="#000" stroke-width="3.2" stroke-linejoin="round"/>
<path class="n" d="M1292.4 1125.3 L1303.2 1131.8" style="stroke-width:2.2"/>
<path d="M1291.8 1115.9 L1295.4 1110.3 L1309.3 1120.1 L1305.7 1125.7Z" fill="#fff" stroke="#000" stroke-width="3.2" stroke-linejoin="round"/>
<path class="n" d="M1297.8 1116.1 L1307.5 1122.9" style="stroke-width:2.2"/>
<path d="M1297.7 1106.6 L1302.1 1101.7 L1314.4 1111.6 L1310.1 1116.6Z" fill="#fff" stroke="#000" stroke-width="3.2" stroke-linejoin="round"/>
<path class="n" d="M1303.4 1107 L1312.1 1114" style="stroke-width:2.2"/>
<path d="M1305.2 1098.5 L1310.4 1094.4 L1321 1104.6 L1315.9 1108.7Z" fill="#fff" stroke="#000" stroke-width="3.2" stroke-linejoin="round"/>
<path class="n" d="M1310.9 1099.4 L1318.4 1106.5" style="stroke-width:2.2"/>
<path d="M1313.9 1091.8 L1319.6 1088.3 L1328 1099 L1322.3 1102.4Z" fill="#fff" stroke="#000" stroke-width="3.2" stroke-linejoin="round"/>
<path class="n" d="M1319.1 1093 L1325 1100.5" style="stroke-width:2.2"/>
<path d="M1323.5 1086.4 L1329.6 1084.1 L1336 1094.8 L1329.8 1097.1Z" fill="#fff" stroke="#000" stroke-width="3.2" stroke-linejoin="round"/>
<path class="n" d="M1328.4 1088.1 L1332.8 1095.7" style="stroke-width:2.2"/>
<path d="M1334 1083.4 L1340.6 1082.6 L1345.2 1093.8 L1338.6 1094.6Z" fill="#fff" stroke="#000" stroke-width="3.2" stroke-linejoin="round"/>
<path class="n" d="M1338.7 1086.3 L1341.9 1094.1" style="stroke-width:2.2"/>
<path d="M1344.8 1083.7 L1351.3 1085.3 L1355.9 1096 L1349.5 1094.4Z" fill="#fff" stroke="#000" stroke-width="3.2" stroke-linejoin="round"/>
<path class="n" d="M1349.5 1087.7 L1352.7 1095.2" style="stroke-width:2.2"/>
<path d="M1355.3 1087 L1361.3 1090 L1366 1100.2 L1360.1 1097.3Z" fill="#fff" stroke="#000" stroke-width="3.2" stroke-linejoin="round"/>
<path class="n" d="M1359.7 1091.6 L1363.1 1098.8" style="stroke-width:2.2"/>
<path d="M1365.1 1092.2 L1370.5 1096 L1375.3 1105.8 L1369.9 1101.9Z" fill="#fff" stroke="#000" stroke-width="3.2" stroke-linejoin="round"/>
<path class="n" d="M1369.2 1097 L1372.6 1103.9" style="stroke-width:2.2"/>
<path d="M1373.6 1099.1 L1377.5 1104.5 L1382.4 1113.7 L1378.5 1108.3Z" fill="#fff" stroke="#000" stroke-width="3.2" stroke-linejoin="round"/>
<path class="n" d="M1377 1104.5 L1380.5 1111" style="stroke-width:2.2"/>
<path d="M1282.5 1110.6 L1275.6 1114.8 L1272.5 1123.8 L1273.8 1130 L1281.2 1134.8 L1290 1131.2 L1291.2 1117.5Z" fill="#fff" stroke="none"/>
<path class="m" d="M1291.2 1117.5 C1290.1 1116.6 1284.6 1111 1282.5 1110.6 C1280.4 1110.3 1277 1113 1275.6 1114.8 C1274.3 1116.5 1272.8 1121.7 1272.5 1123.8 C1272.2 1125.8 1272.6 1128.5 1273.8 1130 C1274.9 1131.5 1280.2 1134.1 1281.2 1134.8"/>
<path class="n" d="M1368.8 1105 C1365.6 1104.9 1355.6 1103.3 1350 1104.4 C1344.4 1105.4 1340 1107.8 1335 1111.2 C1330 1114.7 1324.4 1119.6 1320 1125 C1315.6 1130.4 1311.6 1137.5 1308.8 1143.8 C1305.9 1150 1304.1 1156.9 1303.1 1162.5 C1302.2 1168.1 1302.4 1172.5 1303.1 1177.5 C1303.9 1182.5 1305.9 1189 1307.5 1192.5 C1309.1 1196 1311.7 1197.7 1312.5 1198.8"/>
<path class="m" d="M1372.5 1110 C1369.6 1110.8 1360.4 1112.3 1355 1115 C1349.6 1117.7 1344.6 1121.7 1340 1126.2 C1335.4 1130.8 1331.2 1136.5 1327.5 1142.5 C1323.8 1148.5 1319.8 1156 1317.5 1162.5 C1315.2 1169 1314.2 1175.4 1313.8 1181.2 C1313.3 1187.1 1314 1192.7 1315 1197.5 C1316 1202.3 1317.5 1206.7 1320 1210 C1322.5 1213.3 1326.7 1215.3 1330 1217.5 C1333.3 1219.7 1338.3 1222.2 1340 1223.1"/>
<path class="n" d="M1390 1116.2 C1386.9 1116.7 1377.1 1116.7 1371.2 1118.8 C1365.4 1120.8 1360.2 1124.4 1355 1128.8 C1349.8 1133.1 1344.2 1139.4 1340 1145 C1335.8 1150.6 1332.5 1156.5 1330 1162.5 C1327.5 1168.5 1325.6 1175 1325 1181.2 C1324.4 1187.5 1325 1194.8 1326.2 1200 C1327.5 1205.2 1329.6 1209.2 1332.5 1212.5 C1335.4 1215.8 1341.9 1218.8 1343.8 1220"/>
<path class="n" d="M1397.5 1126.2 C1394.2 1125.6 1383.8 1121 1377.5 1122.5 C1371.2 1124 1365.4 1130 1360 1135 C1354.6 1140 1349 1146.5 1345 1152.5 C1341 1158.5 1338.3 1165 1336.2 1171.2 C1334.2 1177.5 1332.7 1184.2 1332.5 1190 C1332.3 1195.8 1333.3 1201.7 1335 1206.2 C1336.7 1210.8 1340 1215 1342.5 1217.5 C1345 1220 1348.8 1220.6 1350 1221.2"/>
<path class="n" d="M1392.5 1127.5 C1389.6 1129.2 1380.4 1132.9 1375 1137.5 C1369.6 1142.1 1364.2 1148.8 1360 1155 C1355.8 1161.2 1352.5 1168.8 1350 1175 C1347.5 1181.2 1345.6 1187.1 1345 1192.5 C1344.4 1197.9 1345.2 1203.1 1346.2 1207.5 C1347.3 1211.9 1348.1 1215.6 1351.2 1218.8 C1354.4 1221.9 1362.7 1225 1365 1226.2"/>
<path class="m" d="M1378.8 1106.2 L1381.2 1111.2 L1400 1122.5 L1418.8 1137.5 L1430 1145 L1431.2 1155 L1438.8 1160 L1438.8 1168.8 L1450 1175 L1460 1185 L1470 1195 L1475 1207.5 L1483.8 1213.8"/>
<path class="m" d="M1305 1203.8 L1315 1207.5 L1330 1217.5 L1340 1223.1 L1365 1226.9 L1382.5 1216.2 L1385 1228.8 L1390 1230 L1393.8 1224.4 L1402.5 1223.8 L1427.5 1232.5 L1440 1236.2 L1452.5 1236.2 L1460 1231.2"/>
<path d="M1387.5 1137.5 L1406.2 1145 L1403.8 1160 L1386.2 1152.5Z" fill="#fff" stroke="#000" stroke-width="2.8" stroke-linejoin="round"/>
<path d="M1371.2 1151.2 L1390 1157.5 L1388.8 1173.8 L1372.5 1166.2Z" fill="#fff" stroke="#000" stroke-width="2.8" stroke-linejoin="round"/>
<path d="M1362.5 1165 L1382.5 1171.2 L1381.2 1186.2 L1365 1180Z" fill="#fff" stroke="#000" stroke-width="2.8" stroke-linejoin="round"/>
<path d="M1356.2 1182.5 L1378.8 1187.5 L1375 1201.2 L1358.8 1195Z" fill="#fff" stroke="#000" stroke-width="2.8" stroke-linejoin="round"/>
<path d="M1356.2 1200 L1375 1205 L1372.5 1213.8 L1356.2 1210Z" fill="#fff" stroke="#000" stroke-width="2.8" stroke-linejoin="round"/>
<path class="m" d="M1391.2 1141.2 L1405 1146.9"/>
<path class="m" d="M1375 1155 L1389.4 1160"/>
<path class="m" d="M1373.8 1162.5 L1388.8 1168.1"/>
<path class="m" d="M1366.2 1168.8 L1381.9 1173.8"/>
<path class="m" d="M1365 1175 L1380.6 1180.6"/>
<path class="m" d="M1360 1186.2 L1377.5 1190.6"/>
<path class="m" d="M1360 1203.8 L1373.8 1207.5"/>
<path class="b" d="M1407.5 1137.5 L1421.2 1145 L1417.5 1151.2 L1412.5 1150Z"/>
<path class="b" d="M1425 1145 L1430 1145 L1431.2 1155"/>
<path class="m" d="M1386.2 1152.5 L1390 1157.5"/>
<path class="m" d="M1372.5 1166.2 L1365 1165"/>
<path class="n" d="M1415 1160 C1412.9 1161 1406.2 1162.7 1402.5 1166.2 C1398.8 1169.8 1395 1175.8 1392.5 1181.2 C1390 1186.7 1388.1 1193.8 1387.5 1198.8 C1386.9 1203.8 1387.5 1207.7 1388.8 1211.2 C1390 1214.8 1392.3 1217.7 1395 1220 C1397.7 1222.3 1403.3 1224.2 1405 1225"/>
<path class="n" d="M1438.8 1170 C1435.8 1171.5 1426 1174.8 1421.2 1178.8 C1416.5 1182.7 1412.7 1188.5 1410 1193.8 C1407.3 1199 1405.4 1205.2 1405 1210 C1404.6 1214.8 1405.8 1219.2 1407.5 1222.5 C1409.2 1225.8 1413.8 1228.8 1415 1230"/>
<path class="n" d="M1446.2 1175 C1443.1 1176.7 1432.5 1180.8 1427.5 1185 C1422.5 1189.2 1418.8 1195 1416.2 1200 C1413.8 1205 1412.7 1210.4 1412.5 1215 C1412.3 1219.6 1413.5 1224.6 1415 1227.5 C1416.5 1230.4 1420.2 1231.7 1421.2 1232.5"/>
<path class="h" d="M1448.8 1178.8 C1446 1180.6 1436.9 1185.6 1432.5 1190 C1428.1 1194.4 1425 1200.2 1422.5 1205 C1420 1209.8 1417.7 1214.6 1417.5 1218.8 C1417.3 1222.9 1419.4 1227.5 1421.2 1230 C1423.1 1232.5 1427.5 1233.1 1428.8 1233.8"/>
<path class="n" d="M1462.5 1186.2 C1459.6 1187.7 1449.8 1191.5 1445 1195 C1440.2 1198.5 1436.5 1203.3 1433.8 1207.5 C1431 1211.7 1429.2 1216 1428.8 1220 C1428.3 1224 1429.4 1228.5 1431.2 1231.2 C1433.1 1234 1438.5 1235.4 1440 1236.2"/>
<path class="n" d="M1460 1193.8 C1457.9 1195.2 1450.8 1199 1447.5 1202.5 C1444.2 1206 1441.2 1210.8 1440 1215 C1438.8 1219.2 1439.2 1224.2 1440 1227.5 C1440.8 1230.8 1442.9 1233.5 1445 1235 C1447.1 1236.5 1451.2 1236 1452.5 1236.2"/>
<path class="n" d="M1415 1160 L1438.8 1170"/>
<path class="m" d="M1483.8 1213.8 C1481.4 1212.9 1463.1 1205.4 1460 1205 C1456.9 1204.6 1453.5 1208.6 1452.5 1210 C1451.5 1211.4 1450 1217.1 1450 1218.8 C1450 1220.4 1450.6 1224.6 1452.5 1226.2 C1454.4 1227.9 1467.1 1234.1 1468.8 1235"/>
<path class="m" d="M1483.8 1213.8 C1485 1215.4 1485.4 1218.3 1485 1221.2 C1484.6 1224.2 1483.1 1228.9 1481.2 1231.2 C1479.4 1233.6 1476 1235.4 1473.8 1235.6 C1471.5 1235.8 1468.8 1234.5 1467.5 1232.5 C1466.2 1230.5 1465.8 1226.7 1466.2 1223.8 C1466.7 1220.8 1468.1 1217.1 1470 1215 C1471.9 1212.9 1475.2 1211.5 1477.5 1211.2 C1479.8 1211 1482.5 1212.1 1483.8 1213.8Z"/>
<ellipse cx="1475.6" cy="1223.8" rx="3.4" ry="5" transform="rotate(25 1475.6 1223.8)" fill="#000"/>
<path class="l" d="M1369.4 1216 V1253.5"/>
</g>
</g>
</svg>
</body></html>
